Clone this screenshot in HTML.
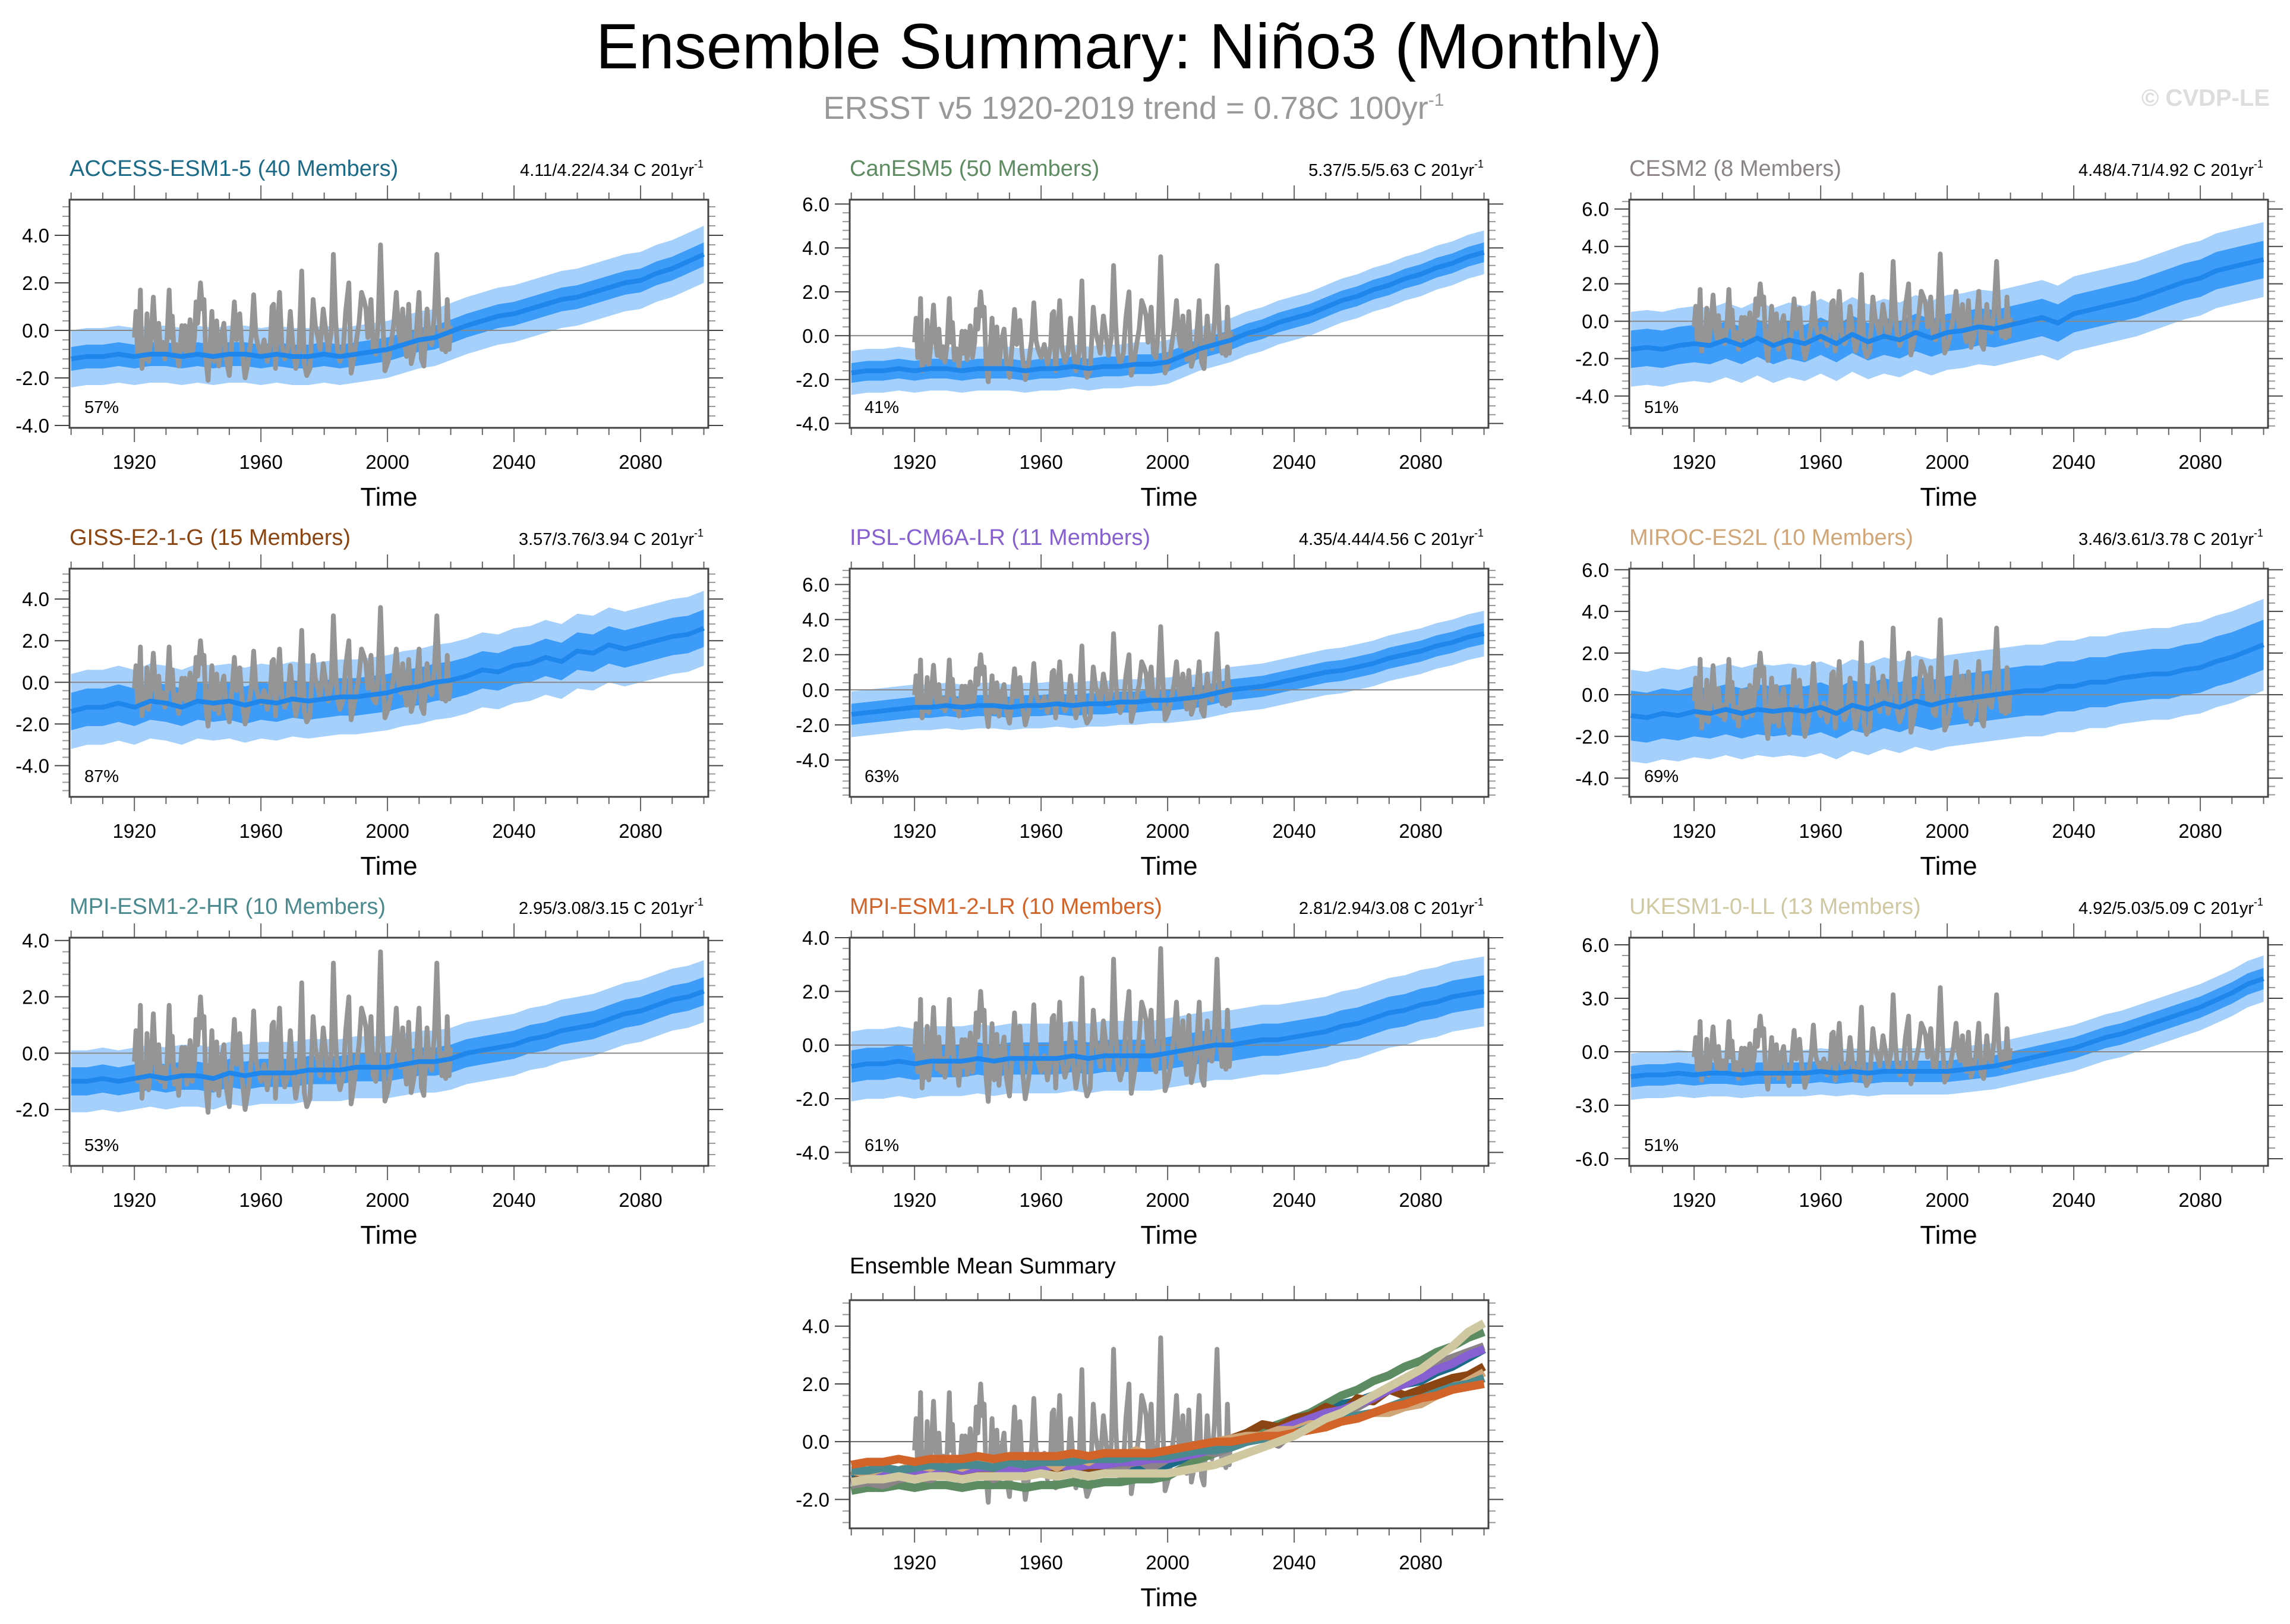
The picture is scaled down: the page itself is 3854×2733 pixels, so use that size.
<!DOCTYPE html>
<html><head><meta charset="utf-8"><title>Ensemble Summary: Niño3 (Monthly)</title>
<style>
html,body{margin:0;padding:0;background:#fff;}
svg{display:block;font-family:"Liberation Sans",sans-serif;}
</style></head>
<body>
<svg id="fig" width="3854" height="2733" viewBox="0 0 3854 2733" xmlns="http://www.w3.org/2000/svg">
<text x="1900" y="115" font-size="108" text-anchor="middle" fill="#000">Ensemble Summary: Niño3 (Monthly)</text>
<text x="1908" y="200" font-size="54" text-anchor="middle" fill="#999">ERSST v5 1920-2019 trend = 0.78C 100yr<tspan dy="-22" font-size="30">-1</tspan></text>
<text x="3820" y="178" font-size="40" font-weight="bold" text-anchor="end" fill="#ddd">© CVDP-LE</text>
<g id="panels"></g>
</svg>
<script>
// ---- data ----
const obsYears = [1920.0,1920.5,1921.0,1921.5,1921.9,1922.4,1923.0,1923.5,1924.0,1924.5,1925.2,1926.0,1926.6,1927.2,1927.7,1928.3,1929.0,1929.6,1930.3,1931.0,1931.5,1932.0,1932.6,1933.3,1934.0,1935.0,1935.5,1936.0,1936.6,1937.6,1938.3,1939.0,1939.5,1940.0,1940.9,1941.5,1942.0,1942.6,1943.3,1944.0,1944.5,1945.2,1946.0,1946.7,1947.3,1948.3,1949.0,1950.0,1950.8,1951.6,1952.3,1953.3,1954.0,1955.0,1956.0,1957.0,1957.7,1958.4,1959.0,1960.0,1961.0,1962.0,1963.0,1963.5,1964.0,1964.6,1965.9,1966.6,1967.5,1968.5,1969.3,1970.0,1971.0,1972.0,1972.9,1973.7,1974.5,1975.5,1976.5,1977.2,1978.0,1978.7,1979.7,1980.5,1981.3,1982.2,1982.9,1983.6,1984.2,1985.0,1986.0,1986.8,1987.8,1988.5,1989.3,1990.2,1991.0,1991.8,1992.5,1993.2,1993.8,1994.8,1995.5,1996.3,1997.0,1997.8,1998.5,1999.2,2000.2,2001.0,2002.0,2002.8,2003.5,2004.1,2004.8,2005.5,2006.0,2006.7,2007.5,2008.2,2009.0,2010.0,2010.7,2011.5,2012.5,2013.2,2014.0,2014.8,2015.6,2016.4,2017.2,2017.8,2018.4,2018.9,2019.5,2019.9];
const obsVals = [-0.3,0.8,-1.0,-0.2,1.7,-1.6,-0.4,-1.2,0.7,-1.3,-0.4,1.4,-0.2,-0.9,0.3,-1.0,-0.5,-1.2,-0.4,1.7,-0.3,0.6,-1.1,-0.6,-1.5,0.2,-0.8,0.2,-1.1,0.45,-1.0,-0.3,1.2,0.3,2.0,0.9,1.3,-1.2,-2.1,-0.5,0.8,-1.3,0.4,-1.5,-0.4,0.3,-1.2,-1.9,-0.5,1.2,-0.4,0.7,-0.8,-2.0,-1.3,-0.2,1.5,-0.2,-0.6,-1.0,-0.4,-1.3,-0.5,1.0,1.1,-1.6,1.6,-0.6,-1.2,-0.8,0.8,-0.5,-1.6,-0.8,2.5,-1.4,-1.9,-1.6,1.3,0.2,-0.3,-0.8,0.9,0.0,-0.9,-0.1,3.2,0.5,-0.8,-1.3,-0.8,0.8,2.0,-1.8,-1.2,-0.4,0.3,1.6,1.3,0.9,-0.3,1.3,-0.8,-1.0,0.2,3.6,0.5,-1.7,-1.3,-0.7,0.3,1.6,0.0,-0.5,0.9,-0.6,-1.1,1.1,-1.4,-1.0,-0.3,1.6,-1.2,-1.5,0.9,-0.4,-0.6,0.6,3.2,0.2,-0.8,0.0,-0.9,1.3,-0.8,0.2];
const modelYears = [1900,1905,1910,1915,1920,1925,1930,1935,1940,1945,1950,1955,1960,1965,1970,1975,1980,1985,1990,1995,2000,2005,2010,2015,2020,2025,2030,2035,2040,2045,2050,2055,2060,2065,2070,2075,2080,2085,2090,2095,2100];
const modelNames = ["ACCESS-ESM1-5","CanESM5","CESM2","GISS-E2-1-G","IPSL-CM6A-LR","MIROC-ES2L","MPI-ESM1-2-HR","MPI-ESM1-2-LR","UKESM1-0-LL"];
const memberCounts = [40,50,8,15,11,10,10,10,13];
const trendText = ["4.11/4.22/4.34","5.37/5.5/5.63","4.48/4.71/4.92","3.57/3.76/3.94","4.35/4.44/4.56","3.46/3.61/3.78","2.95/3.08/3.15","2.81/2.94/3.08","4.92/5.03/5.09"];
const percents = [57,41,51,87,63,69,53,61,51];
const meanACCESS = [-1.2,-1.1,-1.1,-1.0,-1.1,-1.0,-1.0,-1.1,-1.0,-1.1,-1.0,-1.0,-1.1,-1.0,-1.1,-1.1,-1.0,-1.1,-1.0,-0.9,-0.8,-0.6,-0.4,-0.3,-0.05,0.2,0.4,0.6,0.7,0.9,1.1,1.3,1.4,1.6,1.8,2.0,2.1,2.4,2.6,2.9,3.2];
const meanCanESM5 = [-1.7,-1.6,-1.6,-1.5,-1.6,-1.5,-1.5,-1.6,-1.5,-1.5,-1.5,-1.6,-1.5,-1.5,-1.4,-1.5,-1.4,-1.4,-1.3,-1.3,-1.2,-0.9,-0.6,-0.4,-0.2,0.1,0.3,0.6,0.8,1.0,1.3,1.6,1.8,2.1,2.3,2.6,2.8,3.1,3.3,3.6,3.8];
const meanCESM2 = [-1.5,-1.4,-1.5,-1.3,-1.2,-1.3,-1.0,-1.3,-0.9,-1.3,-1.0,-1.2,-0.8,-1.2,-0.7,-1.1,-0.8,-1.0,-0.6,-0.9,-0.6,-0.5,-0.3,-0.4,-0.2,0.0,0.2,-0.1,0.4,0.6,0.8,1.0,1.2,1.5,1.8,2.1,2.3,2.7,2.9,3.1,3.3];
const meanGISS = [-1.4,-1.2,-1.2,-1.0,-1.2,-0.9,-1.0,-1.2,-0.9,-1.0,-0.9,-1.1,-0.9,-1.0,-0.8,-0.9,-0.8,-0.7,-0.7,-0.6,-0.5,-0.3,-0.2,0.0,0.1,0.3,0.6,0.5,0.8,0.9,1.2,1.0,1.5,1.4,1.8,1.6,1.8,2.0,2.2,2.3,2.6];
const meanIPSL = [-1.4,-1.3,-1.2,-1.1,-1.0,-1.0,-0.9,-1.0,-0.9,-0.9,-1.0,-0.9,-0.9,-0.8,-0.9,-0.8,-0.8,-0.7,-0.7,-0.6,-0.6,-0.5,-0.4,-0.2,0.0,0.1,0.2,0.4,0.6,0.8,1.0,1.1,1.3,1.5,1.8,2.0,2.2,2.5,2.7,3.0,3.2];
const meanMIROC = [-1.0,-1.1,-0.9,-1.0,-0.8,-0.9,-0.7,-0.9,-0.7,-0.8,-0.7,-0.8,-0.6,-0.9,-0.5,-0.7,-0.4,-0.6,-0.3,-0.5,-0.3,-0.2,-0.1,0.0,0.1,0.2,0.2,0.4,0.4,0.6,0.6,0.8,0.9,1.0,1.0,1.2,1.3,1.6,1.8,2.1,2.4];
const meanMPIHR = [-1.0,-1.0,-0.9,-1.0,-0.9,-0.8,-0.9,-0.8,-0.8,-0.9,-0.7,-0.8,-0.7,-0.7,-0.7,-0.6,-0.6,-0.6,-0.5,-0.5,-0.5,-0.4,-0.3,-0.3,-0.2,0.0,0.1,0.2,0.3,0.5,0.6,0.8,0.9,1.0,1.2,1.4,1.5,1.7,1.9,2.0,2.2];
const meanMPILR = [-0.8,-0.7,-0.7,-0.6,-0.7,-0.6,-0.6,-0.6,-0.5,-0.6,-0.5,-0.5,-0.5,-0.5,-0.4,-0.5,-0.4,-0.4,-0.4,-0.4,-0.3,-0.2,-0.1,0.0,0.0,0.1,0.2,0.2,0.3,0.4,0.5,0.7,0.8,1.0,1.2,1.3,1.5,1.6,1.8,1.9,2.0];
const meanUKESM = [-1.4,-1.3,-1.3,-1.2,-1.3,-1.2,-1.2,-1.3,-1.2,-1.2,-1.2,-1.2,-1.1,-1.2,-1.1,-1.2,-1.1,-1.1,-1.1,-1.1,-1.1,-1.0,-0.9,-0.8,-0.6,-0.4,-0.2,0.0,0.2,0.5,0.8,1.0,1.3,1.6,1.9,2.2,2.5,2.9,3.3,3.8,4.1];
const innerSpread = [0.5,0.45,1.0,0.9,0.6,1.2,0.5,0.6,0.6];
const outerSpread = [1.2,1.0,2.0,1.8,1.3,2.2,1.1,1.3,1.3];
const yLimLo = [-4.1,-4.2,-5.7,-5.5,-6.1,-4.9,-4.0,-4.5,-6.4];
const yLimHi = [5.5,6.2,6.5,5.46,6.9,6.05,4.1,4.0,6.4];
const yTickSets = [[-4,-2,0,2,4],[-4,-2,0,2,4,6],[-4,-2,0,2,4,6],[-4,-2,0,2,4],[-4,-2,0,2,4,6],[-4,-2,0,2,4,6],[-2,0,2,4],[-4,-2,0,2,4],[-6,-3,0,3,6]];
const xTickLabels = [1920,1960,2000,2040,2080];
const summaryYLo = -3.0, summaryYHi = 4.9;
const summaryTicks = [-2,0,2,4];

const allMeans = [meanACCESS,meanCanESM5,meanCESM2,meanGISS,meanIPSL,meanMIROC,meanMPIHR,meanMPILR,meanUKESM];
const titleColors = ["#1b6b88","#5e8c62","#8a8488","#8b4513","#8660d0","#d0a678","#4a8a8e","#d2642a","#cfc8a0"];

const NS = "http://www.w3.org/2000/svg";
const root = document.getElementById("panels");
function mk(tag, attrs, parent){ const e=document.createElementNS(NS,tag); for(const k in attrs) e.setAttribute(k,attrs[k]); (parent||root).appendChild(e); return e; }

const W=1075, H=384;
const colX=[117,1430,2742], rowY=[336,957,1578];
const X0=1899.5, X1=2101.4;

function axes(g, x0, y0, lo, hi, ticks, idx){
  const sx = yr => x0 + (yr - X0)/(X1-X0)*W;
  const sy = v => y0 + H - (v - lo)/(hi-lo)*H;
  const cp = mk("clipPath",{id:"clip"+idx},g);
  mk("rect",{x:x0,y:y0,width:W,height:H},cp);
  for(let yr=1900; yr<=2100; yr+=10){
    const major = (yr-1920)%40===0;
    const len = major?24:12;
    const x=sx(yr);
    mk("line",{x1:x,x2:x,y1:y0,y2:y0-len,stroke:"#666","stroke-width":2},g);
    mk("line",{x1:x,x2:x,y1:y0+H,y2:y0+H+len,stroke:"#666","stroke-width":2},g);
  }
  const step = ticks[1]-ticks[0];
  const minor = step/5;
  for(let v=Math.ceil(lo/minor)*minor; v<=hi+1e-9; v+=minor){
    const y=sy(v);
    const isMaj = ticks.some(t=>Math.abs(t-v)<1e-6);
    const len = isMaj?25:12;
    mk("line",{x1:x0,x2:x0-len,y1:y,y2:y,stroke:isMaj?"#444":"#999","stroke-width":2},g);
    mk("line",{x1:x0+W,x2:x0+W+len,y1:y,y2:y,stroke:isMaj?"#444":"#999","stroke-width":2},g);
  }
  ticks.forEach(t=>{
    const tl = mk("text",{x:x0-34,y:sy(t)+12,"font-size":33,"text-anchor":"end",fill:"#000"},g);
    
    
    tl.textContent = t.toFixed(1);
  });
  xTickLabels.forEach(t=>{
    const tl = mk("text",{x:sx(t),y:y0+H+69,"font-size":33,"text-anchor":"middle",fill:"#000"},g);
    
    
    tl.textContent = t;
  });
  const xt = mk("text",{x:x0+W/2,y:y0+H+131,"font-size":44,"text-anchor":"middle",fill:"#000"},g);
  
  
  xt.textContent="Time";
  return {sx,sy};
}
function pathFrom(xs, ys, sx, sy){ return xs.map((x,i)=>(i?"L":"M")+sx(x).toFixed(1)+","+sy(ys[i]).toFixed(1)).join(""); }
function bandFrom(xs, ys, w, sx, sy){
  let d = xs.map((x,i)=>(i?"L":"M")+sx(x).toFixed(1)+","+sy(ys[i]+w).toFixed(1)).join("");
  for(let i=xs.length-1;i>=0;i--) d += "L"+sx(xs[i]).toFixed(1)+","+sy(ys[i]-w).toFixed(1);
  return d+"Z";
}

modelNames.forEach((name,i)=>{
  const x0=colX[i%3], y0=rowY[Math.floor(i/3)];
  const g = mk("g",{});
  
  
  const t = mk("text",{x:x0,y:y0-40,"font-size":38,fill:titleColors[i]},g);
  
  
  t.textContent = name+" ("+memberCounts[i]+" Members)";
  const r = mk("text",{x:x0+W-8,y:y0-40,"font-size":29,"text-anchor":"end",fill:"#000"},g);
  
  
  r.textContent = trendText[i]+" C 201yr";
  const sup = mk("tspan",{dy:-14,"font-size":18},r); sup.textContent="-1";
  const {sx,sy} = axes(g,x0,y0,yLimLo[i],yLimHi[i],yTickSets[i],i);
  const cg = mk("g",{"clip-path":"url(#clip"+i+")"},g);
  const ob = mk("path",{d:bandFrom(modelYears,allMeans[i],outerSpread[i],sx,sy),fill:"#a4d0fb"},cg);
  
  
  const ib = mk("path",{d:bandFrom(modelYears,allMeans[i],innerSpread[i],sx,sy),fill:"#3d9cf8"},cg);
  
  
  const z = mk("line",{x1:x0,x2:x0+W,y1:sy(0),y2:sy(0),stroke:"#888","stroke-width":2},cg);
  
  
  const ol = mk("path",{d:pathFrom(obsYears,obsVals,sx,sy),fill:"none",stroke:"#959595","stroke-width":8,"stroke-linejoin":"round"},cg);
  
  
  const ml = mk("path",{d:pathFrom(modelYears,allMeans[i],sx,sy),fill:"none",stroke:"#1f86ec","stroke-width":8,"stroke-linejoin":"round"},cg);
  
  
  const box = mk("rect",{x:x0,y:y0,width:W,height:H,fill:"none",stroke:"#444","stroke-width":3},g);
  
  
  const p = mk("text",{x:x0+25,y:y0+H-25,"font-size":29,fill:"#000"},g);
  
  
  p.textContent = percents[i]+"%";
});

(function(){
  const x0=1430, y0=2188;
  const g = mk("g",{});
  
  
  const t = mk("text",{x:x0,y:y0-45,"font-size":38,fill:"#000"},g);
  
  
  t.textContent="Ensemble Mean Summary";
  const {sx,sy} = axes(g,x0,y0,summaryYLo,summaryYHi,summaryTicks,9);
  const cg = mk("g",{"clip-path":"url(#clip9)"},g);
  const z = mk("line",{x1:x0,x2:x0+W,y1:sy(0),y2:sy(0),stroke:"#666","stroke-width":2},cg);
  
  
  const ol = mk("path",{d:pathFrom(obsYears,obsVals,sx,sy),fill:"none",stroke:"#959595","stroke-width":8,"stroke-linejoin":"round"},cg);
  
  
  allMeans.forEach((m,i)=>{
    const l = mk("path",{d:pathFrom(modelYears,m,sx,sy),fill:"none",stroke:titleColors[i],"stroke-width":14,"stroke-linejoin":"round"},cg);
    
    
  });
  const box = mk("rect",{x:x0,y:y0,width:W,height:H,fill:"none",stroke:"#444","stroke-width":3},g);
  
  
})();
</script>
</body></html>
